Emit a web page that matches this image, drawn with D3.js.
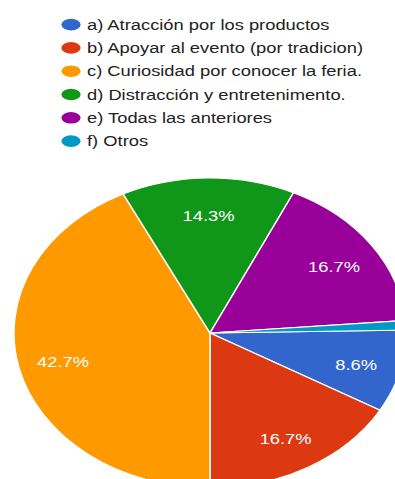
<!DOCTYPE html>
<html>
<head>
<meta charset="utf-8">
<script src="https://cdn.jsdelivr.net/npm/d3@7"></script>
<style>
  html, body { margin: 0; padding: 0; background: #fff; }
  svg { display: block; }
  text { font-family: "Liberation Sans", Arial, sans-serif; }
</style>
</head>
<body>
<svg id="chart" width="395" height="479"></svg>
<script>
// Survey answers and their share of responses (%)
const categories = [
  "a) Atracción por los productos",
  "b) Apoyar al evento (por tradicion)",
  "c) Curiosidad por conocer la feria.",
  "d) Distracción y entretenimento.",
  "e) Todas las anteriores",
  "f) Otros"
];
const values = [8.6, 16.7, 42.7, 14.3, 16.7, 1.0];
const colors = ["#3366cc", "#dc3912", "#ff9900", "#109618", "#990099", "#0099c6"];

const W = 395, H = 479;
const sx = 1.265;          // horizontal stretch of the whole drawing
const fontSize = 14.5;

const svg = d3.select("#chart");
const data = categories.map((c, i) => ({ cat: c, value: values[i], color: colors[i] }));

// ---- Legend ----
const legend = svg.append("g");
const rowY = d3.scaleLinear().domain([0, 1]).range([24.6, 47.9]);
const items = legend.selectAll("g.item").data(data).join("g")
  .attr("class", "item")
  .attr("transform", (d, i) => `translate(0,${rowY(i)})`);
items.append("ellipse")
  .attr("cx", 71).attr("cy", 0)
  .attr("rx", 9.6).attr("ry", 5.8)
  .attr("fill", d => d.color);
items.append("text")
  .attr("transform", `translate(87,0) scale(${sx},1)`)
  .attr("dy", "0.36em")
  .attr("font-size", fontSize)
  .attr("fill", "#222")
  .text(d => d.cat);

// ---- Pie ----
const R = 155;
const cx = 210, cy = 333;
const total = d3.sum(values);
// rotate so the boundary between b) and c) points straight down
const start = Math.PI - 2 * Math.PI * (values[0] + values[1]) / total;

const pie = d3.pie().sort(null).value(d => d.value)
  .startAngle(start).endAngle(start + 2 * Math.PI);
const arcs = pie(data);
const arc = d3.arc().innerRadius(0).outerRadius(R);
const labelArc = d3.arc().innerRadius(R * 0.77).outerRadius(R * 0.77);

const g = svg.append("g").attr("transform", `translate(${cx},${cy}) scale(${sx},1)`);
g.selectAll("path").data(arcs).join("path")
  .attr("d", arc)
  .attr("fill", d => d.data.color)
  .attr("stroke", "#fff")
  .attr("stroke-width", 1.2);

g.selectAll("text.lbl").data(arcs.filter(d => d.data.value >= 5)).join("text")
  .attr("class", "lbl")
  .attr("x", d => labelArc.centroid(d)[0])
  .attr("y", d => labelArc.centroid(d)[1])
  .attr("dy", "0.5em")
  .attr("text-anchor", "middle")
  .attr("font-size", fontSize)
  .attr("fill", "#fff")
  .text(d => d.data.value.toFixed(1) + "%");
</script>
</body>
</html>
